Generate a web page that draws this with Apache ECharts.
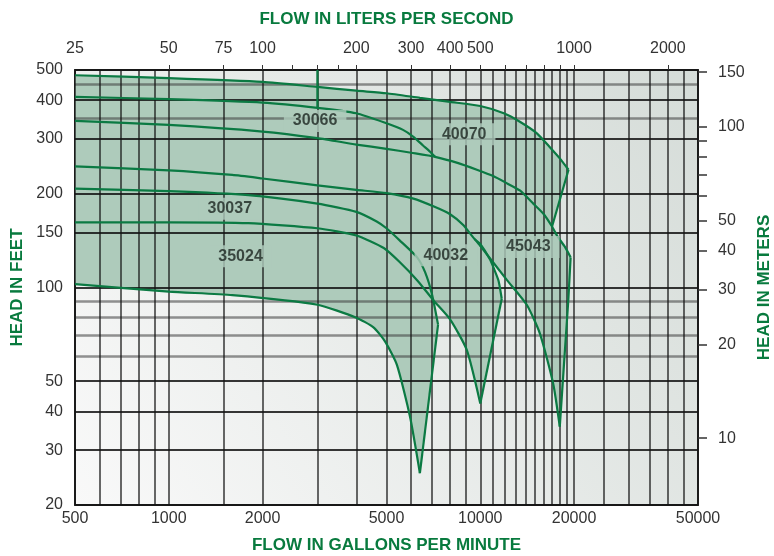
<!DOCTYPE html>
<html>
<head>
<meta charset="utf-8">
<title>Pump performance curves</title>
<script src="https://cdn.jsdelivr.net/npm/echarts@6/dist/echarts.min.js"></script>
<style>
  html, body { margin: 0; padding: 0; background: #fff; }
  #main { width: 774px; height: 556px; }
</style>
</head>
<body>
<div id="main"></div>
<script>
// ---- axes ----
var gpmGrid = [500,600,700,800,900,1000,1500,2000,3000,4000,5000,6000,7000,8000,9000,10000,
  11000,12000,13000,14000,15000,16000,17000,18000,19000,20000,25000,30000,35000,40000,45000,50000];
var gpmLabels = [500,1000,2000,5000,10000,20000,50000];
var lpsTicks = [50,75,100,125,150,175,200,300,400,500,600,700,800,900,1000,2000];
var lpsLabels = [25,50,75,100,200,300,400,500,1000,2000];
var feetGrid = [20,30,40,50,100,150,200,300,400,500];
var feetGridLight = [60,70,80,90,350,450];
var feetLabels = [20,30,40,50,100,150,200,300,400,500];
var meterTicks = [10,20,30,40,50,60,70,80,90,100,150];
var meterLabels = [10,20,30,40,50,100,150];
var FT_PER_M = 3.28084;

// ---- curves [gpm, feet] ----
var c1 = [[500,481],[1000,471],[2000,458],[3000,441],[4000,429],[5000,421],[6400,407],[8000,395],
  [10000,383],[11900,363],[13400,341],[15200,313],[16700,283],[18000,260],[19200,239]];
var c2 = [[500,410],[1000,403],[2000,393],[3000,378],[4000,363],[5000,337],[5650,321],[6100,305],
  [6550,286],[6900,273],[7160,263]];
var c3 = [[500,343],[1000,333],[2000,317],[3000,302],[4000,288],[5000,279],[6000,271],[7160,263],
  [8500,251],[9750,239],[11000,228],[12200,216],[13400,205],[14800,186],[16000,172],[17000,157],
  [17700,146],[18700,135],[19500,125]];
var c4 = [[500,245],[1000,238],[1600,230],[2000,224],[3000,213],[4000,206],[5000,201],[6100,193],
  [7100,182],[8000,172],[8800,159],[9600,143],[10000,138],[10750,123],[11100,114],[11450,105],[11720,92]];
var c4b = [[9600,143],[10000,136],[12150,106],[14100,88],[15550,71],[17150,49],[18000,35.7]];
var c5 = [[500,208],[1000,204],[1800,198],[3000,186],[4000,175],[4650,163],[5000,155],[5500,142],
  [6270,125],[6650,112],[7000,95],[7320,76]];
var c6 = [[500,162],[1000,162],[1800,161],[3000,155],[4000,147],[4900,134],[5500,121],[6300,105],
  [7070,91],[8000,79],[9050,63],[10000,42.4]];
var c7 = [[500,102.6],[1000,97],[1600,94.5],[3000,88],[4000,80],[4540,74.5],[4950,67],[5400,56.4],
  [5950,38.4],[6400,25.3]];

// end-of-curve lines
var e40070 = [[19200,239],[17000,157]];
var e45043 = [[19500,125],[19170,91],[18000,35.7]];
var e40032 = [[11720,92],[10000,42.4]];
var e35024 = [[7320,76],[6400,25.3]];
var mark3000 = [[3000,500],[3000,378]];

// model labels [name, gpm, feet]
var models = [['30066',2950,343],['40070',8880,311],['30037',1570,179],
  ['35024',1700,126],['40032',7750,127],['45043',14260,135]];

// ---- filled operating ranges ----
function rev(a) { return a.slice().reverse(); }
var regions = [
  c1.concat(e40070.slice(1), rev(c3.filter(function (p) { return p[0] < 17000; }))),
  c3.concat(e45043.slice(1), rev(c4b), rev(c4.filter(function (p) { return p[0] < 9600; }))),
  c4.concat(e40032.slice(1), rev(c6)),
  c5.concat(e35024.slice(1), rev(c7))
];

var GREEN = '#0b7a43';
var FILL = '#aecbbb';
var plain = function (v) { return String(Math.round(v)); };
var tickFont = { fontFamily: '"Liberation Sans", Arial, sans-serif', fontSize: 16, color: '#333', formatter: plain };
var titleFont = { fontFamily: '"Liberation Sans Narrow", "Liberation Sans", sans-serif',
  fontSize: 17, fontWeight: 'bold', color: '#087a3e' };

var chart = echarts.init(document.getElementById('main'));

function curve(d, smooth) {
  return { type: 'line', data: d, xAxisIndex: 0, yAxisIndex: 0, symbol: 'none', smooth: smooth,
    silent: true, z: 3, lineStyle: { color: GREEN, width: 2.2 } };
}

var series = [{
  type: 'custom', xAxisIndex: 0, yAxisIndex: 0, z: 1, silent: true,
  data: regions.map(function (r) { return r[0]; }),
  renderItem: function (params, api) {
    var pts = regions[params.dataIndex].map(function (p) { return api.coord(p); });
    return { type: 'polygon', shape: { points: pts }, style: { fill: FILL } };
  }
}];
[c1, c2, c3, c4, c4b, c5, c6, c7].forEach(function (c) { series.push(curve(c, 0.2)); });
[e40070, e45043, e40032, e35024, mark3000].forEach(function (c) { series.push(curve(c, false)); });
series.push({
  type: 'scatter', xAxisIndex: 0, yAxisIndex: 0, z: 5, silent: true, symbolSize: 2,
  itemStyle: { color: 'rgba(0,0,0,0)' },
  data: models.map(function (m) { return { name: m[0], value: [m[1], m[2]] }; }),
  label: { show: true, position: 'inside', formatter: '{b}', backgroundColor: FILL, padding: [3, 9],
    fontFamily: '"Liberation Sans", Arial, sans-serif', fontWeight: 'bold', fontSize: 16, color: '#1c2620' }
});

chart.setOption({
  animation: false,
  grid: {
    left: 75, right: 76, top: 70, bottom: 51, show: true, borderColor: '#2b2b2b', borderWidth: 2,
    outerBoundsMode: 'none', containLabel: false,
    backgroundColor: new echarts.graphic.LinearGradient(0, 1, 1, 0, [
      { offset: 0, color: '#f9f9f9' }, { offset: 1, color: '#d5dcd8' }])
  },
  xAxis: [{
    type: 'log', min: 500, max: 50000, position: 'bottom', z: 2,
    name: 'FLOW IN GALLONS PER MINUTE', nameLocation: 'middle', nameGap: 32, nameTextStyle: titleFont,
    axisLine: { show: false },
    axisTick: { show: false, customValues: gpmGrid },
    axisLabel: Object.assign({ customValues: gpmLabels, margin: 6 }, tickFont),
    splitLine: { show: true, lineStyle: { color: 'rgba(20,20,20,0.85)', width: 1.5 } }
  }, {
    type: 'log', min: 25, max: 2500, position: 'top', z: 2,
    name: 'FLOW IN LITERS PER SECOND', nameLocation: 'middle', nameGap: 42, nameTextStyle: titleFont,
    axisLine: { show: false },
    axisTick: { show: true, length: 5, customValues: lpsTicks, lineStyle: { color: '#333', width: 1 } },
    axisLabel: Object.assign({ customValues: lpsLabels, margin: 13 }, tickFont),
    splitLine: { show: false }
  }],
  yAxis: [{
    type: 'log', min: 20, max: 500, position: 'left', z: 2,
    name: 'HEAD IN FEET', nameLocation: 'middle', nameGap: 48, nameTextStyle: titleFont,
    axisLine: { show: false },
    axisTick: { show: false, customValues: feetGrid },
    axisLabel: Object.assign({ customValues: feetLabels, margin: 12 }, tickFont),
    splitLine: { show: true, lineStyle: { color: 'rgba(20,20,20,0.85)', width: 2 } }
  }, {
    type: 'log', min: 20 / FT_PER_M, max: 500 / FT_PER_M, position: 'right', z: 2,
    name: 'HEAD IN METERS', nameLocation: 'middle', nameGap: 57, nameTextStyle: titleFont,
    axisLine: { show: false },
    axisTick: { show: true, length: 9, customValues: meterTicks, lineStyle: { color: '#333', width: 1.5 } },
    axisLabel: Object.assign({ customValues: meterLabels, margin: 20 }, tickFont),
    splitLine: { show: false }
  }, {
    type: 'log', min: 20, max: 500, position: 'left', z: 2,
    axisLine: { show: false }, axisLabel: { show: false },
    axisTick: { show: false, customValues: feetGridLight },
    splitLine: { show: true, lineStyle: { color: 'rgba(60,60,60,0.55)', width: 2.5 } }
  }],
  series: series
});
</script>
</body>
</html>
